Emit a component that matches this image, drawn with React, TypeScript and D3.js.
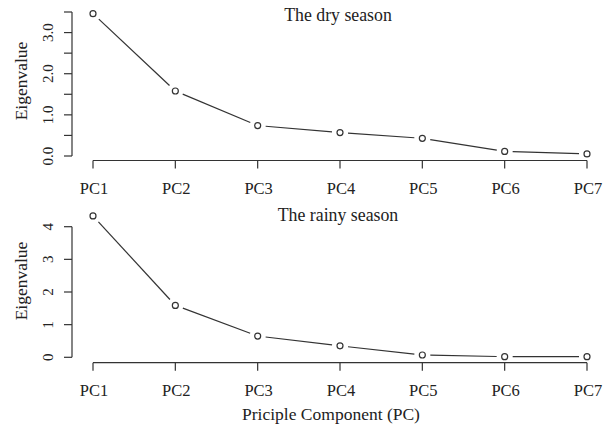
import React from "react";
import * as d3 from "d3";

const categories = ["PC1", "PC2", "PC3", "PC4", "PC5", "PC6", "PC7"];
const dryValues = [3.46, 1.58, 0.74, 0.57, 0.43, 0.11, 0.05];
const rainyValues = [4.33, 1.59, 0.65, 0.35, 0.07, 0.02, 0.02];
const dryTicks = [0, 0.5, 1, 1.5, 2, 2.5, 3, 3.5];
const dryTickLabels = ["0.0", "1.0", "2.0", "3.0"];
const rainyTicks = [0, 1, 2, 3, 4];
const rainyTickLabels = ["0", "1", "2", "3", "4"];

const FONT = "'Liberation Serif', 'Times New Roman', serif";
const INK = "#333";
const TXT = "#222";

const x = d3.scalePoint<string>().domain(categories).range([93, 587]);

type PanelProps = {
  title: string;
  titleY: number;
  values: number[];
  yScale: d3.ScaleLinear<number, number>;
  ticks: number[];
  tickLabels: string[];
  axisY: number;
  yLabelCenter: number;
};

function Panel({ title, titleY, values, yScale, ticks, tickLabels, axisY, yLabelCenter }: PanelProps) {
  const pts = values.map((v, i) => [x(categories[i]) as number, yScale(v)] as [number, number]);
  const gap = 8;
  const segs: { x1: number; y1: number; x2: number; y2: number }[] = [];
  for (let i = 0; i < pts.length - 1; i++) {
    const [ax, ay] = pts[i];
    const [bx, by] = pts[i + 1];
    const len = Math.hypot(bx - ax, by - ay);
    if (len <= 2 * gap) continue;
    const ux = (bx - ax) / len;
    const uy = (by - ay) / len;
    segs.push({ x1: ax + ux * gap, y1: ay + uy * gap, x2: bx - ux * gap, y2: by - uy * gap });
  }
  const yTop = yScale(ticks[ticks.length - 1]);
  const yBot = yScale(ticks[0]);
  const labelVals = tickLabels.map((l) => parseFloat(l));
  return (
    <g>
      <text x={338} y={titleY} textAnchor="middle" fontFamily={FONT} fontSize={17.8} fill={TXT}>
        {title}
      </text>
      {/* y axis */}
      <line x1={72} x2={72} y1={yTop} y2={yBot} stroke={INK} strokeWidth={1.2} />
      {ticks.map((t) => (
        <line key={t} x1={64} x2={72} y1={yScale(t)} y2={yScale(t)} stroke={INK} strokeWidth={1.2} />
      ))}
      {labelVals.map((v, i) => (
        <text
          key={i}
          transform={`translate(53,${yScale(v)}) rotate(-90)`}
          textAnchor="middle"
          fontFamily={FONT}
          fontSize={15}
          fill={TXT}
        >
          {tickLabels[i]}
        </text>
      ))}
      <text
        transform={`translate(27,${yLabelCenter}) rotate(-90)`}
        textAnchor="middle"
        fontFamily={FONT}
        fontSize={17.5}
        fill={TXT}
      >
        Eigenvalue
      </text>
      {/* x axis */}
      <line x1={x(categories[0])} x2={x(categories[categories.length - 1])} y1={axisY} y2={axisY} stroke={INK} strokeWidth={1.2} />
      {categories.map((c) => (
        <g key={c}>
          <line x1={x(c)} x2={x(c)} y1={axisY} y2={axisY + 8} stroke={INK} strokeWidth={1.2} />
          <text x={(x(c) as number) + 1} y={axisY + 33} textAnchor="middle" fontFamily={FONT} fontSize={16.5} fill={TXT}>
            {c}
          </text>
        </g>
      ))}
      {/* line with gaps */}
      {segs.map((s, i) => (
        <line key={i} {...s} stroke={INK} strokeWidth={1.2} />
      ))}
      {pts.map(([px, py], i) => (
        <circle key={i} cx={px} cy={py} r={3} fill="none" stroke={INK} strokeWidth={1.2} />
      ))}
    </g>
  );
}

export default function App() {
  const yDry = d3.scaleLinear().domain([0, 3.5]).range([156, 12]);
  const yRainy = d3.scaleLinear().domain([0, 4]).range([357.3, 226.7]);
  return (
    <svg
      width={610}
      height={436}
      style={{ position: "absolute", left: 0, top: 0, background: "#fff" }}
    >
      <rect width={610} height={436} fill="#fff" />
      <Panel
        title="The dry season"
        titleY={21}
        values={dryValues}
        yScale={yDry}
        ticks={dryTicks}
        tickLabels={dryTickLabels}
        axisY={160.5}
        yLabelCenter={81}
      />
      <Panel
        title="The rainy season"
        titleY={221}
        values={rainyValues}
        yScale={yRainy}
        ticks={rainyTicks}
        tickLabels={rainyTickLabels}
        axisY={362.7}
        yLabelCenter={281}
      />
      <text x={331} y={420} textAnchor="middle" fontFamily={FONT} fontSize={17.5} fill={TXT}>
        Priciple Component (PC)
      </text>
    </svg>
  );
}
